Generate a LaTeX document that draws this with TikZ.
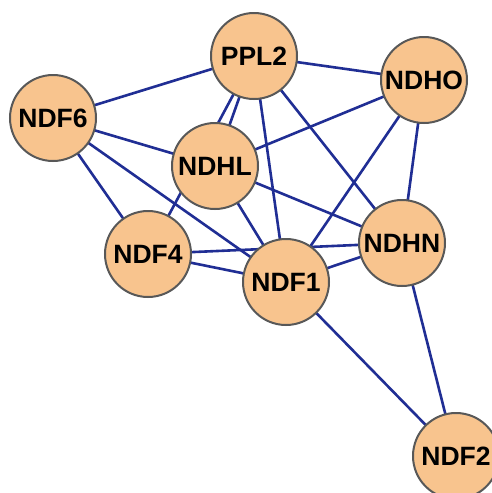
\documentclass[tikz,border=0pt]{standalone}
\usepackage{fontspec}
\setmainfont{Liberation Sans}
\usetikzlibrary{backgrounds}
\definecolor{nodefill}{RGB}{248,196,142}
\definecolor{nodeline}{RGB}{88,88,88}
\definecolor{edgeblue}{RGB}{32,46,148}
\tikzset{
  gene/.style={circle, draw=nodeline, line width=2pt, fill=nodefill,
    minimum size=86pt, inner sep=0pt, font=\fontsize{26.5}{26.5}\selectfont\bfseries},
  link/.style={draw=edgeblue, line width=2.6pt}
}
\begin{document}
\begin{tikzpicture}[x=1pt,y=-1pt]
\clip (0,0) rectangle (492,493);
\useasboundingbox (0,0) rectangle (492,493);
\node[gene] (PPL2) at (254,56) {PPL2};
\node[gene] (NDHO) at (424,80) {NDHO};
\node[gene] (NDF6) at (53,118) {NDF6};
\node[gene] (NDHL) at (215,166) {NDHL};
\node[gene] (NDHN) at (402,243) {NDHN};
\node[gene] (NDF4) at (148,254) {NDF4};
\node[gene] (NDF1) at (286,282) {NDF1};
\node[gene] (NDF2) at (456,456) {NDF2};
\begin{scope}[on background layer]
\fill[white] (0,0) rectangle (492,493);
\draw[link] (PPL2.center) -- (NDF6.center);
\draw[link] (PPL2.center) -- (NDHO.center);
\draw[link] (PPL2.center) -- (NDHL.center);
\draw[link] (PPL2.center) -- (NDF4.center);
\draw[link] (PPL2.center) -- (NDF1.center);
\draw[link] (PPL2.center) -- (NDHN.center);
\draw[link] (NDHO.center) -- (NDHL.center);
\draw[link] (NDHO.center) -- (NDF1.center);
\draw[link] (NDHO.center) -- (NDHN.center);
\draw[link] (NDF6.center) -- (NDHL.center);
\draw[link] (NDF6.center) -- (NDF1.center);
\draw[link] (NDF6.center) -- (NDF4.center);
\draw[link] (NDHL.center) -- (NDF1.center);
\draw[link] (NDHL.center) -- (NDHN.center);
\draw[link] (NDF4.center) -- (NDHN.center);
\draw[link] (NDF4.center) -- (NDF1.center);
\draw[link] (NDF1.center) -- (NDHN.center);
\draw[link] (NDF1.center) -- (NDF2.center);
\draw[link] (NDHN.center) -- (NDF2.center);
\end{scope}
\end{tikzpicture}
\end{document}
